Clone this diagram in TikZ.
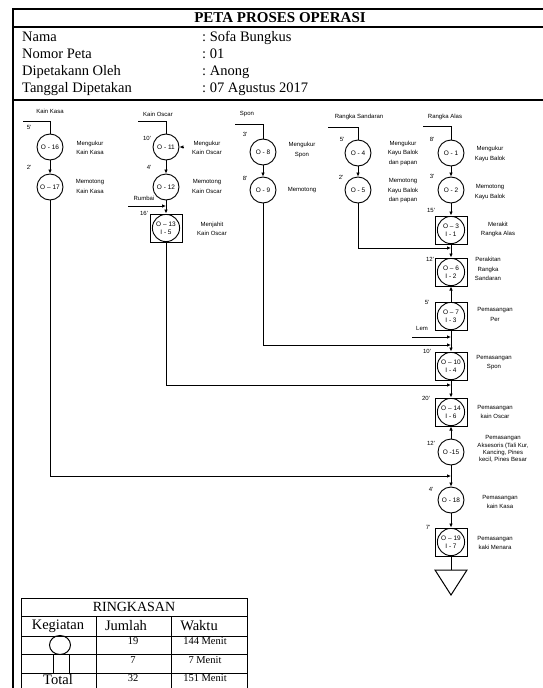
\documentclass[tikz,border=0pt]{standalone}
\usepackage{fontspec}
\setmainfont{Liberation Serif}
\newfontfamily\arial{Liberation Sans}
\usetikzlibrary{arrows.meta,positioning,calc}

\begin{document}
\begin{tikzpicture}[x=1pt,y=-1pt,
  garis/.style={line width=0.9pt},
  panah/.style={garis,-{Latex[length=4pt,width=3.6pt]}},
  op/.style={circle,draw,line width=0.9pt,minimum size=26pt,inner sep=0pt,align=center,font=\arial\fontsize{6.5}{7}\selectfont},
  gab/.style={rectangle,draw,line width=1pt,minimum width=32pt,minimum height=28pt,inner sep=0pt,align=center,
    font=\arial\fontsize{6.5}{8}\selectfont,
    path picture={\draw[line width=0.9pt] (path picture bounding box.center) circle (13.6pt);}},
  ket/.style={font=\arial\fontsize{6}{9.5}\selectfont,align=center,inner sep=0pt},
  menit/.style={font=\arial\fontsize{6}{7}\selectfont,inner sep=0pt},
  bahan/.style={font=\arial\fontsize{6}{7}\selectfont,inner sep=0pt},
  kepala/.style={font=\fontsize{14.5}{15}\selectfont,anchor=west,inner sep=0pt,text height=10pt,text depth=3pt},
  tabel/.style={line width=1pt}
]
\useasboundingbox (0,0) rectangle (543,688);

% bingkai dan kepala peta
\draw[line width=1.2pt] (545,9) -- (13,9) -- (13,690);
\draw[line width=1.2pt] (13,27) -- (545,27);
\draw[line width=1.2pt] (13,100) -- (545,100);
\node[font=\bfseries\fontsize{15}{15}\selectfont] (judul) at (280,18) {PETA PROSES OPERASI};
\node[kepala] (h1) at (22,38) {Nama};
\node[kepala] (h2) at (22,55) {Nomor Peta};
\node[kepala] (h3) at (22,72) {Dipetakann Oleh};
\node[kepala] (h4) at (22,89) {Tanggal Dipetakan};
\node[kepala] (v1) at (202,38) {:\ Sofa Bungkus};
\node[kepala] (v2) at (202,55) {:\ 01};
\node[kepala] (v3) at (202,72) {:\ Anong};
\node[kepala] (v4) at (202,89) {:\ 07 Agustus 2017};

% kain kasa
\node[bahan] (b1) at (50,111) {Kain Kasa};
\coordinate (k0) at (23,121);
\node[op] (o16) at (50,147) {O - 16};
\node[op] (o17) at (50,187) {O – 17};
\node[menit] (m16) at (29,127) {5'};
\node[menit] (m17) at (29,167) {2'};
\node[ket] (t16) at (90,148) {Mengukur\\Kain Kasa};
\node[ket] (t17) at (90,186.5) {Memotong\\Kain Kasa};

% kain oscar
\node[bahan] (b2) at (158,114) {Kain Oscar};
\coordinate (ko0) at (138,121);
\node[op] (o11) at (166,147) {O - 11};
\node[op] (o12) at (166,187) {O - 12};
\node[gab] (o13) at (166,228) {O – 13\\I - 5};
\coordinate (r11) at (184,147);
\node[menit] (m11) at (147,138) {10'};
\node[menit] (m12) at (149,167) {4'};
\node[menit] (m13) at (144,213) {16'};
\node[ket] (t11) at (207,148) {Mengukur\\Kain Oscar};
\node[ket] (t12) at (207,186.5) {Memotong\\Kain Oscar};
\node[ket] (t13) at (212,229) {Menjahit\\Kain Oscar};
\node[bahan] (b3) at (144,198) {Rumbai};
\coordinate (rb0) at (128,206);

% spon
\node[bahan] (b4) at (247,114) {Spon};
\coordinate (s0) at (235,124);
\node[op] (o8) at (263,152) {O - 8};
\node[op] (o9) at (263,190) {O - 9};
\node[menit] (m8) at (245,134) {3'};
\node[menit] (m9) at (245,178) {8'};
\node[ket] (t8) at (302,150) {Mengukur\\Spon};
\node[ket] (t9) at (302,190) {Memotong};

% rangka sandaran
\node[bahan] (b5) at (359,117) {Rangka Sandaran};
\coordinate (rs0) at (328,127);
\node[op] (o4) at (358,153) {O - 4};
\node[op] (o5) at (358,190) {O - 5};
\node[menit] (m4) at (342,139) {5'};
\node[menit] (m5) at (341,177) {2'};
\node[ket] (t4) at (403,153) {Mengukur\\Kayu Balok\\dan papan};
\node[ket] (t5) at (403,191) {Memotong\\Kayu Balok\\dan papan};

% rangka alas dan jalur utama
\node[bahan] (b6) at (445,117) {Rangka Alas};
\coordinate (ra0) at (423,126);
\node[op] (o1) at (451,153) {O - 1};
\node[op] (o2) at (451,190) {O - 2};
\node[gab] (o3) at (451,230) {O – 3\\I - 1};
\node[gab] (o6) at (451,272) {O – 6\\I - 2};
\node[gab] (o7) at (451,316) {O – 7\\I - 3};
\node[gab] (o10) at (451,366) {O – 10\\I - 4};
\node[gab] (o14) at (451,412) {O – 14\\I - 6};
\node[op] (o15) at (451,452) {O -15};
\node[op] (o18) at (451,500) {O - 18};
\node[gab] (o19) at (451,542) {O – 19\\I - 7};
\coordinate (akhir) at (451,570);
\node[menit] (m1) at (432,139) {8'};
\node[menit] (m2) at (432,176) {3'};
\node[menit] (m3) at (431,210) {15'};
\node[menit] (m6) at (430,259) {12'};
\node[menit] (m7) at (427,302) {5'};
\node[menit] (m10) at (427,351) {10'};
\node[menit] (m14) at (426,398) {20'};
\node[menit] (m15) at (431,443) {12'};
\node[menit] (m18) at (431,489) {4'};
\node[menit] (m19) at (428,527) {7'};
\node[ket] (t1) at (490,154) {Mengukur\\Kayu Balok};
\node[ket] (t2) at (490,192) {Memotong\\Kayu Balok};
\node[ket] (t3) at (498,229.5) {Merakit\\Rangka Alas};
\node[ket] (t6) at (488,269) {Perakitan\\Rangka\\Sandaran};
\node[ket] (t7) at (495,314.5) {Pemasangan\\Per};
\node[ket] (t10) at (494,362.5) {Pemasangan\\Spon};
\node[ket] (t14) at (495,412) {Pemasangan\\kain Oscar};
\node[ket,font=\arial\fontsize{6}{7.3}\selectfont] (t15) at (503,449) {Pemasangan\\Aksesoris (Tali Kur,\\Kancing, Pines\\kecil, Pines Besar};
\node[ket] (t18) at (500,502) {Pemasangan\\kain Kasa};
\node[ket] (t19) at (495,543) {Pemasangan\\kaki Menara};
\node[bahan] (b7) at (422,328) {Lem};
\coordinate (lem0) at (412,337);
\coordinate (j1) at (451,248);
\coordinate (j2) at (451,345);
\coordinate (j3) at (451,385);
\coordinate (j4) at (451,476);

% garis masuk bahan
\draw[garis] (k0) -| (o16);
\draw[garis] (ko0) -| (o11);
\draw[garis] (s0) -| (o8);
\draw[garis] (rs0) -| (o4);
\draw[garis] (ra0) -| (o1);
\draw[panah] (rb0) -- (o12 |- rb0);
\draw[panah] (lem0) -- (o7 |- lem0);
\draw[panah] (r11) -- (o11);

% aliran
\draw[panah] (o16) -- (o17);
\draw[panah] (o11) -- (o12);
\draw[panah] (o12) -- (o13);
\draw[panah] (o8) -- (o9);
\draw[panah] (o4) -- (o5);
\draw[panah] (o1) -- (o2);
\draw[panah] (o2) -- (o3);
\draw[panah] (o3) -- (o6);
\draw[panah] (o7) -- (o6);
\draw[panah] (o7) -- (o10);
\draw[panah] (o10) -- (o14);
\draw[panah] (o15) -- (o14);
\draw[panah] (o15) -- (o18);
\draw[panah] (o18) -- (o19);
\draw[garis] (o19) -- (akhir);
\draw[panah] (o5) |- (j1);
\draw[panah] (o9) |- (j2);
\draw[panah] (o13) |- (j3);
\draw[panah] (o17) |- (j4);
\draw[line width=1pt] (435,570) -- (467,570) -- (451,595) -- cycle;

% ringkasan
\draw[tabel] (21,692) -- (21,598) -- (247,598) -- (247,692);
\draw[tabel] (21,616) -- (247,616);
\draw[tabel] (21,636) -- (247,636);
\draw[tabel] (21,654) -- (247,654);
\draw[tabel] (21,673) -- (247,673);
\draw[tabel] (96,616) -- (96,692);
\draw[tabel] (171,616) -- (171,692);
\node[font=\fontsize{14}{14}\selectfont] (rk) at (134,607) {RINGKASAN};
\node[font=\fontsize{14.5}{14.5}\selectfont] (kg) at (58,626) {Kegiatan};
\node[font=\fontsize{14.5}{14.5}\selectfont] (jm) at (126,626) {Jumlah};
\node[font=\fontsize{14.5}{14.5}\selectfont] (wk) at (199,626) {Waktu};
\draw[line width=1pt] (60,645) ellipse (10.5 and 9.5);
\draw[line width=1pt] (53,654) rectangle (69,673);
\node[font=\fontsize{10.5}{10.5}\selectfont] (n1) at (133,641) {19};
\node[font=\fontsize{10.5}{10.5}\selectfont] (w1) at (205,641) {144 Menit};
\node[font=\fontsize{10.5}{10.5}\selectfont] (n2) at (133,660) {7};
\node[font=\fontsize{10.5}{10.5}\selectfont] (w2) at (205,660) {7 Menit};
\node[font=\fontsize{10.5}{10.5}\selectfont] (n3) at (133,678) {32};
\node[font=\fontsize{10.5}{10.5}\selectfont] (w3) at (205,678) {151 Menit};
\node[font=\fontsize{14.5}{14.5}\selectfont,inner sep=0pt] (tt) at (58,679.5) {Total};
\end{tikzpicture}
\end{document}
